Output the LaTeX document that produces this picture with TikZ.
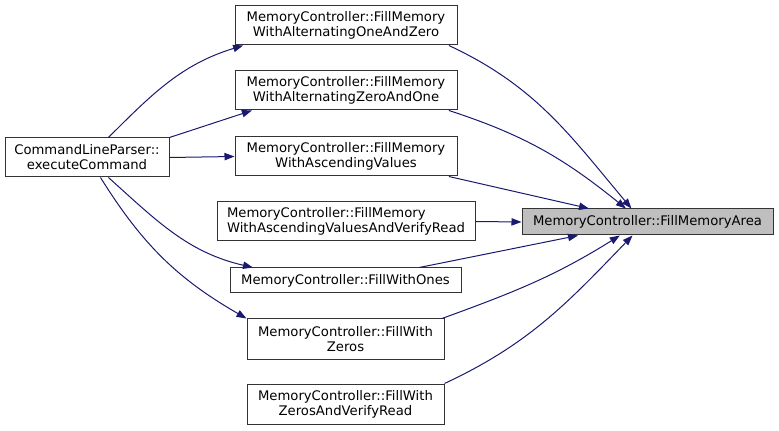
\documentclass[tikz,border=0pt]{standalone}
\usepackage{fontspec}
\setmainfont{DejaVu Sans}
\usetikzlibrary{arrows.meta}
\definecolor{edgeblue}{HTML}{191970}
\definecolor{areagray}{HTML}{BFBFBF}

\begin{document}
\begin{tikzpicture}[
    x=0.75pt, y=-0.75pt,
    font=\fontsize{9.9}{11.25}\selectfont,
    func/.style={rectangle, draw=black!80, line width=0.75pt, align=center, inner sep=0pt, minimum height=29.25pt},
    call/.style={draw=edgeblue, line width=0.75pt, -{Triangle[length=7.5pt, width=5.5pt]}}
]
\useasboundingbox (0,0) rectangle (779,431);

\node[func, minimum width=123pt] (cmd) at (87,157.5) {CommandLineParser::\\executeCommand};

\node[func, minimum width=166.5pt] (f1) at (346,25.5) {MemoryController::FillMemory\\WithAlternatingOneAndZero};
    \node[func, minimum width=166.5pt] (f2) at (346,90.5) {MemoryController::FillMemory\\WithAlternatingZeroAndOne};
    \node[func, minimum width=166.5pt] (f3) at (346,156.5) {MemoryController::FillMemory\\WithAscendingValues};
    \node[func, minimum width=193.5pt, align=left] (f4) at (346,221.5) {MemoryController::FillMemory\\WithAscendingValuesAndVerifyRead};
    \node[func, minimum width=173.25pt, minimum height=18.75pt] (f5) at (345.5,280.5) {MemoryController::FillWithOnes};
    \node[func, minimum width=147.75pt, minimum height=30pt] (f6) at (345.5,339) {MemoryController::FillWith\\Zeros};
    \node[func, minimum width=147.75pt, minimum height=30pt] (f7) at (345.5,404) {MemoryController::FillWith\\ZerosAndVerifyRead};

\node[func, fill=areagray, minimum width=188.25pt, minimum height=19.5pt] (area) at (647.5,222) {MemoryController::FillMemoryArea};

\draw[call] (cmd.43) to[out=45, in=197] (f1.191.5);
    \draw[call] (cmd.north east) -- (f2.192.4);
    \draw[call] (cmd.east) -- (f3.west);
    \draw[call] (cmd.317) to[out=-42, in=167] (f5.172);
    \draw[call] (cmd.304) to[out=-58, in=150] (f6.north west);

\draw[call] (f1.-11) to[out=-25, in=130] (area.140);
    \draw[call] (f2.-11.7) to[out=-18, in=141] (area.148);
    \draw[call] (f3.-11.7) -- (area.167);
    \draw[call] (f4.east) -- (area.west);
    \draw[call] (f5.10.6) -- (area.191.6);
    \draw[call] (f6.12.9) to[out=20, in=212] (area.206);
    \draw[call] (f7.north east) to[out=25, in=226] (area.222);
    
\end{tikzpicture}
\end{document}
